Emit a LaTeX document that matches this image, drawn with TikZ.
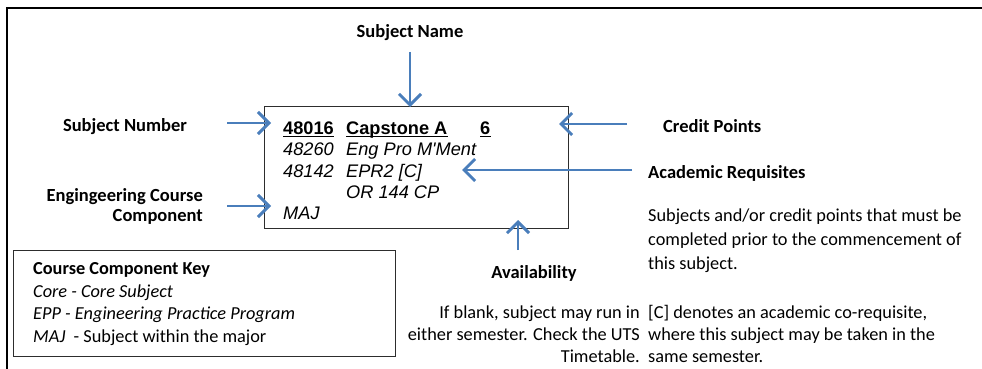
\documentclass[tikz,border=0pt]{standalone}
\usepackage{fontspec}
\setmainfont{Carlito}
\newfontfamily\arialfont{Liberation Sans}
\usetikzlibrary{arrows.meta}
\definecolor{arrowblue}{RGB}{74,126,187}
\definecolor{boxgray}{RGB}{45,45,45}
\begin{document}
\begin{tikzpicture}[x=1pt,y=-1pt,
  lbl/.style={font=\fontsize{18.5}{21}\selectfont\bfseries, inner sep=0pt},
  para/.style={font=\fontsize{18.3}{#1}\selectfont, inner sep=0pt},
  para/.default=22,
  ar/.style={font=\arialfont\fontsize{18.2}{21}\selectfont, inner sep=0pt, anchor=base west},
  arb/.style={ar, font=\arialfont\fontsize{18.2}{21}\selectfont\bfseries},
  ari/.style={ar, font=\arialfont\fontsize{18.2}{21}\selectfont\itshape},
  ul/.style={line width=1.3pt, black},
  ptr/.style={draw=arrowblue, line width=2.9pt,
    -{Straight Barb[length=11pt,width=22pt]}},
]
\useasboundingbox (0,0) rectangle (982,369);

% outer frame
\draw[line width=1.6pt] (982,8) -- (7,8) -- (7,369);

% subject card
\node[draw=boxgray, line width=1.3pt, minimum width=304pt, minimum height=122pt,
      inner sep=0pt, anchor=north west] (card) at (264,106) {};

\node[arb] (num)  at (283,134) {48016};
\node[arb] (name) at (346,134) {Capstone A};
\node[arb] (cp)   at (480,134) {6};
\draw[ul] ([yshift=-2.6pt]num.base west)  -- ([yshift=-2.6pt]num.base east);
\draw[ul] ([yshift=-2.6pt]name.base west) -- ([yshift=-2.6pt]name.base east);
\draw[ul] ([yshift=-2.6pt]cp.base west)   -- ([yshift=-2.6pt]cp.base east);

\node[ari] (r2a) at (283,155) {48260};
\node[ari] (r2b) at (346,155) {Eng Pro M'Ment};
\node[ari] (r3a) at (283,177) {48142};
\node[ari] (r3b) at (346,177) {EPR2 [C]};
\node[ari] (r4b) at (346,198) {OR 144 CP};
\node[ari] (r5a) at (283,219) {MAJ};

% labels
\node[lbl] (lname) at (410,33) {Subject Name};
\node[lbl] (lnum)  at (125,127) {Subject Number};
\node[lbl, align=right, anchor=east] (lcomp) at (203,206)
  {Engingeering Course\\[-1pt]Component};
\node[lbl, anchor=west] (lcp)  at (663,126) {Credit Points};
\node[lbl, anchor=west] (lreq) at (648,173) {Academic Requisites};
\node[para=24, align=left, anchor=west] (reqtext) at (648,241)
  {Subjects and/or credit points that must be\\
   completed prior to the commencement of\\
   this subject.};
\node[para=22, align=left, anchor=west] (cotext) at (648,334)
  {[C] denotes an academic co-requisite,\\
   where this subject may be taken in the\\
   same semester.};
\node[lbl] (lavail) at (534,273) {Availability};
\node[para=22, align=right, anchor=east] (availtext) at (640,334)
  {If blank, subject may run in\\
   either semester. Check the UTS\\
   Timetable.};

% key box
\node[draw=boxgray, line width=1.2pt, minimum width=382pt, minimum height=106pt,
      inner sep=0pt, anchor=north west] (keybox) at (13,250) {};
\node[para=22.7, align=left, anchor=west] (keytext) at (33,304)
  {\textbf{Course Component Key}\\
   \textit{Core - Core Subject}\\
   \textit{EPP - Engineering Practice Program}\\
   \textit{MAJ}\ \ - Subject within the major};

% arrows
\coordinate (snT) at (410,52);  \coordinate (snH) at (410,107);
\coordinate (nuT) at (227,123); \coordinate (nuH) at (271,123);
\coordinate (coT) at (227,206); \coordinate (coH) at (271,206);
\coordinate (cpT) at (627,124); \coordinate (cpH) at (559,124);
\coordinate (rqT) at (632,170); \coordinate (rqH) at (462,170);
\coordinate (avT) at (518,250); \coordinate (avH) at (518,220);
\draw[ptr] (snT) -- (snH);
\draw[ptr] (nuT) -- (nuH);
\draw[ptr] (coT) -- (coH);
\draw[ptr] (cpT) -- (cpH);
\draw[ptr] (rqT) -- (rqH);
\draw[ptr] (avT) -- (avH);
\end{tikzpicture}
\end{document}
